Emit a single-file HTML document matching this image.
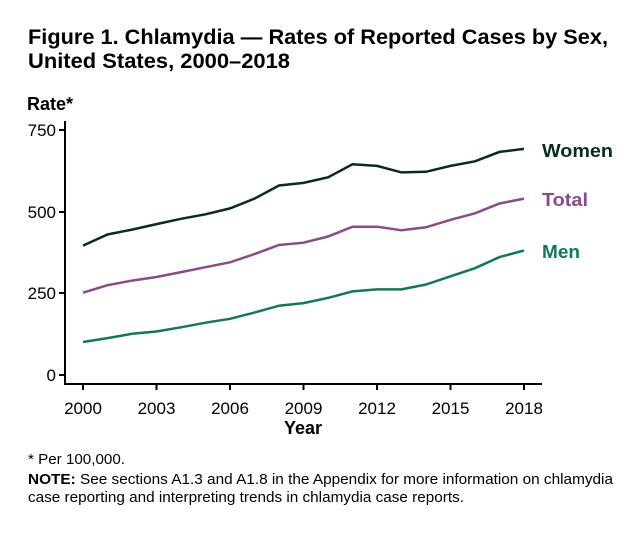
<!DOCTYPE html><html><head><style>body{margin:0;background:#fff;width:640px;height:536px;overflow:hidden;font-family:"Liberation Sans",Arial,sans-serif}</style></head><body>
<svg width="640" height="536" xmlns="http://www.w3.org/2000/svg" font-family="Liberation Sans, Arial, sans-serif">
<text x="28" y="44" font-size="21" font-weight="bold" fill="#000" textLength="580" lengthAdjust="spacingAndGlyphs">Figure 1. Chlamydia — Rates of Reported Cases by Sex,</text>
<text x="28" y="68" font-size="21" font-weight="bold" fill="#000" textLength="262" lengthAdjust="spacingAndGlyphs">United States, 2000–2018</text>
<text x="27" y="110" font-size="18" font-weight="bold">Rate*</text>
<g stroke="#000" stroke-width="2" fill="none">
<path d="M65,121V384H542"/>
<path d="M59,130H65M59,212H65M59,293H65M59,375H65"/>
<path d="M83,384v6M156.5,384v6M230,384v6M303.5,384v6M377,384v6M450.5,384v6M524,384v6"/>
</g>
<g font-size="17" text-anchor="end"><text x="56" y="136">750</text><text x="56" y="218">500</text><text x="56" y="299">250</text><text x="56" y="381">0</text></g>
<g font-size="17" text-anchor="middle"><text x="83" y="414">2000</text><text x="156.5" y="414">2003</text><text x="230" y="414">2006</text><text x="303.5" y="414">2009</text><text x="377" y="414">2012</text><text x="450.5" y="414">2015</text><text x="524" y="414">2018</text></g>
<text x="303" y="434" font-size="18" font-weight="bold" text-anchor="middle">Year</text>
<polyline id="w" fill="none" stroke="#0b2a22" stroke-width="2.5" points=""/>
<polyline id="t" fill="none" stroke="#8b4a89" stroke-width="2.5" points=""/>
<polyline id="m" fill="none" stroke="#0e7a5a" stroke-width="2.5" points=""/>
<text x="542" y="157" font-size="18.5" font-weight="bold" fill="#0b2a22" textLength="71" lengthAdjust="spacingAndGlyphs">Women</text>
<text x="542" y="206" font-size="18.5" font-weight="bold" fill="#8b4a89" textLength="46" lengthAdjust="spacingAndGlyphs">Total</text>
<text x="542" y="258" font-size="18.5" font-weight="bold" fill="#0e7a5a" textLength="38" lengthAdjust="spacingAndGlyphs">Men</text>
<text x="28" y="464" font-size="14.5" textLength="97" lengthAdjust="spacingAndGlyphs">* Per 100,000.</text>
<text x="28" y="484" font-size="14.5" textLength="585" lengthAdjust="spacingAndGlyphs"><tspan font-weight="bold">NOTE:</tspan> See sections A1.3 and A1.8 in the Appendix for more information on chlamydia</text>
<text x="28" y="502" font-size="14.5" textLength="436" lengthAdjust="spacingAndGlyphs">case reporting and interpreting trends in chlamydia case reports.</text>
</svg>
<script>
var d={w:[396,430,445,462,478,492,510,540,580,588,605,645,640,620,622,640,654,683,692],t:[252,275,289,300,315,330,345,370,398,405,424,454,454,443,452,475,495,525,540],m:[101,113,126,133,146,160,172,191,212,220,236,256,262,262,277,302,327,361,381]};
for(var k in d){document.getElementById(k).setAttribute('points',d[k].map(function(v,i){return (83+i*24.5)+','+(375-v*0.3267).toFixed(1)}).join(' '));}
</script>
</body></html>
